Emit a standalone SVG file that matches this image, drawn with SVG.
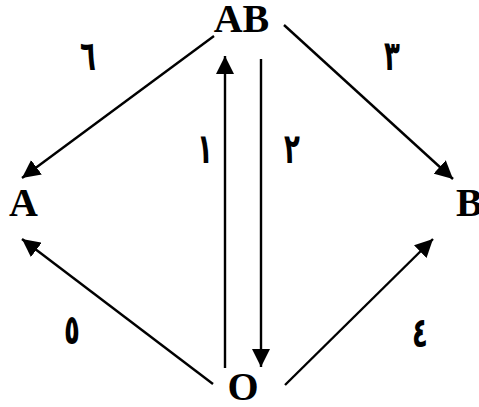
<svg xmlns="http://www.w3.org/2000/svg" width="479" height="407" viewBox="0 0 479 407">
<style>
.node{font-family:"Liberation Serif","Times New Roman",serif;font-weight:bold;font-size:40px;fill:#000}
.lbl{font-family:"DejaVu Sans",sans-serif;font-weight:bold;font-size:26px;fill:#000}
.edge{stroke:#000;stroke-width:2.4;fill:none;marker-end:url(#ah)}
</style>
<defs>
<marker id="ah" markerUnits="userSpaceOnUse" markerWidth="18" markerHeight="18" viewBox="0 0 16 16" refX="16" refY="8" orient="auto">
<path d="M0,0 L16,8 L0,16 Z" fill="#000"/>
</marker>
</defs>
<g id="AB"><text class="node" x="241.5" y="32" text-anchor="middle">AB</text></g>
<g id="A"><text class="node" x="9" y="216">A</text></g>
<g id="B"><text class="node" x="456" y="216">B</text></g>
<g id="O"><text class="node" x="243" y="400" text-anchor="middle">O</text></g>
<g id="connectors">
<line class="edge" x1="214" y1="36" x2="22" y2="178"/>
<line class="edge" x1="225" y1="368" x2="225" y2="56"/>
<line class="edge" x1="261" y1="59" x2="261" y2="367"/>
<line class="edge" x1="284" y1="25" x2="453" y2="179"/>
<line class="edge" x1="213" y1="384" x2="22" y2="239"/>
<line class="edge" x1="285" y1="385" x2="433" y2="239"/>
</g>
<g id="labels">
<text class="lbl" transform="translate(88,70) scale(1,1.6)" text-anchor="middle">٦</text>
<text class="lbl" transform="translate(392,70) scale(1,1.6)" text-anchor="middle">٣</text>
<text class="lbl" transform="translate(205,163) scale(1,1.6)" text-anchor="middle">١</text>
<text class="lbl" transform="translate(292,163) scale(1,1.6)" text-anchor="middle">٢</text>
<text class="lbl" transform="translate(72,344) scale(1,1.6)" text-anchor="middle">٥</text>
<text class="lbl" transform="translate(420,347) scale(1,1.6)" text-anchor="middle">٤</text>
</g>
</svg>
